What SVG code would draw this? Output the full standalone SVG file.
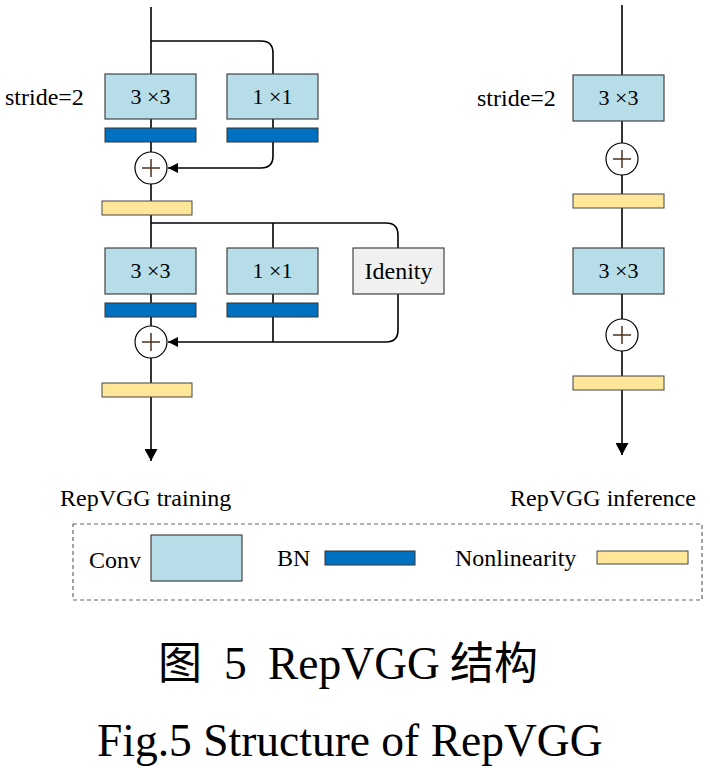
<svg xmlns="http://www.w3.org/2000/svg" width="710" height="768" viewBox="0 0 710 768">
<defs>
<style>
.conv{fill:#b7dde8;stroke:#444;stroke-width:1.2}
.bn{fill:#0070c0;stroke:#333;stroke-width:1}
.nl{fill:#ffe699;stroke:#444;stroke-width:1}
.id{fill:#f0f0f0;stroke:#444;stroke-width:1.2}
.ln{fill:none;stroke:#000;stroke-width:1.6}
.add{fill:#fff;stroke:#000;stroke-width:1.2}
.pl{stroke:#4a3020;stroke-width:1.5}
.t{font-family:"Liberation Serif","Times New Roman",serif;fill:#000}
.bt{font-size:22px}
.lb{font-size:24px}
.cap{font-size:45.5px}
.cjk{font-family:"Noto Sans CJK SC","Liberation Serif",sans-serif;font-size:44px}
</style>
<marker id="ah" viewBox="0 0 10 10" refX="10" refY="5" markerWidth="10" markerHeight="10" markerUnits="userSpaceOnUse" orient="auto">
<path d="M0,0 L10,5 L0,10 z" fill="#000"/>
</marker>
<marker id="ahd" viewBox="0 0 12 13" refX="12" refY="6.5" markerWidth="12" markerHeight="13" markerUnits="userSpaceOnUse" orient="auto">
<path d="M0,0 L12,6.5 L0,13 z" fill="#000"/>
</marker>
</defs>

<g id="connectors">
<line class="ln" x1="151" y1="7" x2="151" y2="152"/>
<path class="ln" d="M151,41 H261 Q273,41 273,53 V74"/>
<line class="ln" x1="273" y1="119" x2="273" y2="128"/>
<path class="ln" d="M273,142 V156 Q273,168 261,168 H168" marker-end="url(#ah)"/>
<line class="ln" x1="151" y1="184" x2="151" y2="326"/>
<path class="ln" d="M151,223 H386 Q398,223 398,235 V248"/>
<line class="ln" x1="273" y1="223" x2="273" y2="248"/>
<line class="ln" x1="273" y1="294" x2="273" y2="342"/>
<path class="ln" d="M398,294 V330 Q398,342 386,342 H168" marker-end="url(#ah)"/>
<line class="ln" x1="151" y1="358" x2="151" y2="461" marker-end="url(#ahd)"/>
<line class="ln" x1="622" y1="5" x2="622" y2="455" marker-end="url(#ahd)"/>
</g>

<g id="train-conv3-1"><rect class="conv" x="105" y="74" width="91" height="45"/><text class="t bt" x="150.5" y="104" text-anchor="middle">3 ×3</text></g>
<g id="train-conv1-1"><rect class="conv" x="227" y="74" width="91" height="45"/><text class="t bt" x="272.5" y="104" text-anchor="middle">1 ×1</text></g>
<g id="train-bn3-1"><rect class="bn" x="105" y="128" width="91" height="14"/></g>
<g id="train-bn1-1"><rect class="bn" x="227" y="128" width="91" height="14"/></g>
<g id="train-add-1"><circle class="add" cx="151" cy="168" r="16"/><line class="pl" x1="142" y1="168" x2="160" y2="168"/><line class="pl" x1="151" y1="159" x2="151" y2="177"/></g>
<g id="train-nl-1"><rect class="nl" x="102" y="201" width="90" height="14"/></g>
<g id="stride-train"><text class="t lb" x="5" y="105">stride=2</text></g>

<g id="train-conv3-2"><rect class="conv" x="105" y="248" width="91" height="46"/><text class="t bt" x="150.5" y="278" text-anchor="middle">3 ×3</text></g>
<g id="train-conv1-2"><rect class="conv" x="227" y="248" width="91" height="46"/><text class="t bt" x="272.5" y="278" text-anchor="middle">1 ×1</text></g>
<g id="train-identity"><rect class="id" x="353" y="248" width="91" height="46"/><text class="t lb" x="398.5" y="279" text-anchor="middle">Idenity</text></g>
<g id="train-bn3-2"><rect class="bn" x="105" y="303" width="91" height="14"/></g>
<g id="train-bn1-2"><rect class="bn" x="227" y="303" width="91" height="14"/></g>
<g id="train-add-2"><circle class="add" cx="151" cy="342" r="16"/><line class="pl" x1="142" y1="342" x2="160" y2="342"/><line class="pl" x1="151" y1="333" x2="151" y2="351"/></g>
<g id="train-nl-2"><rect class="nl" x="102" y="383" width="90" height="14"/></g>

<g id="inf-conv-1"><rect class="conv" x="573" y="75" width="91" height="46"/><text class="t bt" x="618.5" y="105" text-anchor="middle">3 ×3</text></g>
<g id="stride-inf"><text class="t lb" x="477" y="106">stride=2</text></g>
<g id="inf-add-1"><circle class="add" cx="622" cy="159" r="16"/><line class="pl" x1="613" y1="159" x2="631" y2="159"/><line class="pl" x1="622" y1="150" x2="622" y2="168"/></g>
<g id="inf-nl-1"><rect class="nl" x="573" y="194" width="91" height="14"/></g>
<g id="inf-conv-2"><rect class="conv" x="573" y="248" width="91" height="46"/><text class="t bt" x="618.5" y="278" text-anchor="middle">3 ×3</text></g>
<g id="inf-add-2"><circle class="add" cx="622" cy="335" r="16"/><line class="pl" x1="613" y1="335" x2="631" y2="335"/><line class="pl" x1="622" y1="326" x2="622" y2="344"/></g>
<g id="inf-nl-2"><rect class="nl" x="573" y="376" width="91" height="14"/></g>

<g id="labels">
<text class="t lb" x="60" y="506">RepVGG training</text>
<text class="t lb" x="510" y="506">RepVGG inference</text>
</g>

<g id="legend">
<rect x="73" y="524" width="629" height="76" fill="none" stroke="#666" stroke-width="1.2" stroke-dasharray="4,3"/>
<text class="t lb" x="89" y="568">Conv</text>
<rect class="conv" x="151" y="535" width="91" height="46"/>
<text class="t lb" x="277" y="566">BN</text>
<rect class="bn" x="325" y="551" width="90" height="14"/>
<text class="t lb" x="455" y="566">Nonlinearity</text>
<rect class="nl" x="597" y="551" width="91" height="13"/>
</g>

<g id="caption">
<text class="t cap" y="679"><tspan class="cjk" x="158">图</tspan><tspan x="224">5</tspan><tspan x="268">RepVGG</tspan><tspan class="cjk" x="450">结构</tspan></text>
<text class="t cap" x="97" y="756">Fig.5 Structure of RepVGG</text>
</g>
</svg>
